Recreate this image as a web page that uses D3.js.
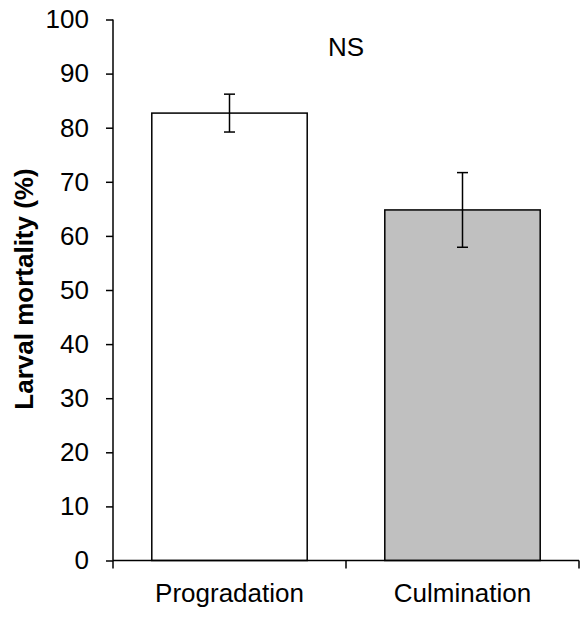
<!DOCTYPE html>
<html>
<head>
<meta charset="utf-8">
<script src="https://cdn.jsdelivr.net/npm/d3@7"></script>
<style>
  html, body { margin: 0; padding: 0; background: #fff; }
  svg { display: block; }
</style>
</head>
<body>
<svg id="chart" width="581" height="617"></svg>
<script>
const categories = ["Progradation", "Culmination"];
const values = [82.7, 64.8];
const errors = [3.5, 6.9];
const fills = ["#ffffff", "#c0c0c0"];
const yTicks = [0, 10, 20, 30, 40, 50, 60, 70, 80, 90, 100];
const annotation = "NS";
const yTitle = "Larval mortality (%)";

(function () {
const svg = d3.select("#chart");
const mLeft = 113, mRight = 579, mTop = 19.5, mBottom = 560.5;
const font = "'Liberation Sans', Arial, sans-serif";

const x = d3.scaleBand().domain(categories).range([mLeft, mRight])
  .paddingInner(0.333).paddingOuter(0.1665);
const y = d3.scaleLinear().domain([0, 100]).range([mBottom, mTop]);

// bars
svg.selectAll("rect.bar").data(categories).enter().append("rect")
  .attr("class", "bar")
  .attr("x", d => x(d))
  .attr("y", (d, i) => y(values[i]))
  .attr("width", x.bandwidth())
  .attr("height", (d, i) => y(0) - y(values[i]))
  .attr("fill", (d, i) => fills[i])
  .attr("stroke", "#000")
  .attr("stroke-width", 1.5);

// error bars
const capW = 5.5;
categories.forEach((c, i) => {
  const cx = x(c) + x.bandwidth() / 2;
  const g = svg.append("g").attr("stroke", "#000").attr("stroke-width", 1.5);
  g.append("line").attr("x1", cx).attr("x2", cx)
    .attr("y1", y(values[i] + errors[i])).attr("y2", y(values[i] - errors[i]));
  [values[i] + errors[i], values[i] - errors[i]].forEach(v => {
    g.append("line").attr("x1", cx - capW).attr("x2", cx + capW)
      .attr("y1", y(v)).attr("y2", y(v));
  });
});

// y axis
const yAxis = d3.axisLeft(y).tickValues(yTicks).tickSize(7).tickPadding(17)
  .tickFormat(d3.format("d"));
const gy = svg.append("g").attr("transform", `translate(${mLeft},0)`).call(yAxis);
gy.select(".domain").attr("d", `M0,${mTop}V${mBottom}`).attr("stroke-width", 1.5);
gy.selectAll(".tick line").attr("stroke-width", 1.5);
gy.selectAll("text").attr("font-family", font).attr("font-size", 26).attr("fill", "#000");

// x axis: ticks at category boundaries
const gx = svg.append("g").attr("transform", `translate(0,${mBottom})`);
const bounds = [mLeft, (mLeft + mRight) / 2, mRight];
gx.append("line").attr("x1", mLeft).attr("x2", mRight)
  .attr("stroke", "#000").attr("stroke-width", 1.5);
gx.selectAll("line.tk").data(bounds).enter().append("line")
  .attr("class", "tk").attr("x1", d => d).attr("x2", d => d)
  .attr("y1", 0).attr("y2", 8).attr("stroke", "#000").attr("stroke-width", 1.5);
gx.selectAll("text").data(categories).enter().append("text")
  .attr("x", d => x(d) + x.bandwidth() / 2)
  .attr("y", 23).attr("dy", "0.71em")
  .attr("text-anchor", "middle")
  .attr("font-family", font).attr("font-size", 26).attr("fill", "#000")
  .text(d => d);

// annotation
svg.append("text").attr("x", (mLeft + mRight) / 2).attr("y", 56)
  .attr("text-anchor", "middle").attr("font-family", font).attr("font-size", 26)
  .text(annotation);

// y title
svg.append("text")
  .attr("transform", `translate(33,289) rotate(-90)`)
  .attr("text-anchor", "middle").attr("font-family", font)
  .attr("font-size", 26).attr("font-weight", "bold")
  .text(yTitle);
})();
</script>
</body>
</html>
